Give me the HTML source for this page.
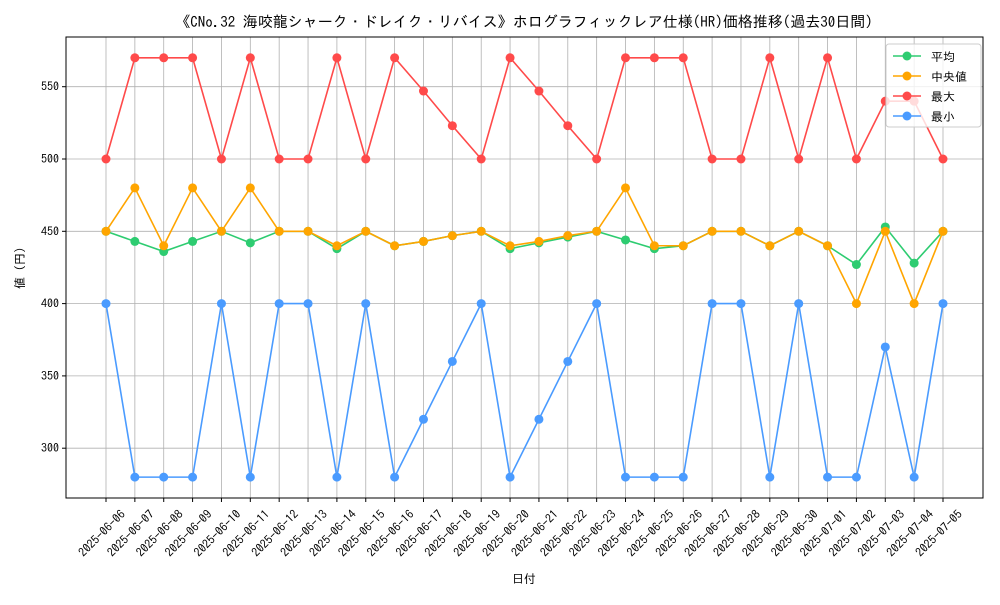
<!DOCTYPE html>
<html><head><meta charset="utf-8"><style>
body{margin:0;background:#fff;font-family:"Liberation Sans","IPAGothic","Noto Sans CJK JP",sans-serif}
svg text{font-family:"IPAGothic","Noto Sans CJK JP",sans-serif}
</style></head><body>
<svg id="c" width="1000" height="600" xmlns="http://www.w3.org/2000/svg"></svg>
<script>
const categories=["2025-06-06","2025-06-07","2025-06-08","2025-06-09","2025-06-10","2025-06-11","2025-06-12","2025-06-13","2025-06-14","2025-06-15","2025-06-16","2025-06-17","2025-06-18","2025-06-19","2025-06-20","2025-06-21","2025-06-22","2025-06-23","2025-06-24","2025-06-25","2025-06-26","2025-06-27","2025-06-28","2025-06-29","2025-06-30","2025-07-01","2025-07-02","2025-07-03","2025-07-04","2025-07-05"];
const avgValues=[450,443,436,443,450,442,450,450,438,450,440,443,447,450,438,442,446,450,444,438,440,450,450,440,450,440,427,453,428,450];
const medianValues=[450,480,440,480,450,480,450,450,440,450,440,443,447,450,440,443,447,450,480,440,440,450,450,440,450,440,400,450,400,450];
const maxValues=[500,570,570,570,500,570,500,500,570,500,570,547,523,500,570,547,523,500,570,570,570,500,500,570,500,570,500,540,540,500];
const minValues=[400,280,280,280,400,280,400,400,280,400,280,320,360,400,280,320,360,400,280,280,280,400,400,280,400,280,280,370,280,400];
const yTicks=[300,350,400,450,500,550];
const seriesNames=["平均","中央値","最大","最小"];
const NS="http://www.w3.org/2000/svg",svg=document.getElementById("c");
const L=66,R=983,T=37,B=498;
const xs=i=>106+i*(943-106)/(categories.length-1);
const ys=v=>159+(500-v)*(72.3/50);
function el(t,a,p){const e=document.createElementNS(NS,t);for(const k in a)e.setAttribute(k,a[k]);(p||svg).appendChild(e);return e;}
const title=el("text",{x:524,y:27,"text-anchor":"middle","font-size":15});title.textContent="《CNo.32 海咬龍シャーク・ドレイク・リバイス》ホログラフィックレア仕様(HR)価格推移(過去30日間)";

categories.forEach((c,i)=>{const x=xs(i);
const g=el("line",{x1:x,x2:x,y1:T,y2:B,stroke:"#b0b0b0","stroke-width":0.8});

el("line",{x1:x,x2:x,y1:B,y2:B+4,stroke:"#000"});
const ax=x+20,ay=B+17;
const t=el("text",{x:ax,y:ay,"text-anchor":"end","font-size":12,transform:`rotate(-45 ${ax} ${ay})`});t.textContent=c;
});
yTicks.forEach(v=>{const y=ys(v);
const g=el("line",{x1:L,x2:R,y1:y,y2:y,stroke:"#b0b0b0","stroke-width":0.8});

el("line",{x1:L-4,x2:L,y1:y,y2:y,stroke:"#000"});
const t=el("text",{x:L-7,y:y+4,"text-anchor":"end","font-size":12});t.textContent=v;
});
const fr=el("rect",{x:L,y:T,width:R-L,height:B-T,fill:"none",stroke:"#000"});

const xl=el("text",{x:524,y:583,"text-anchor":"middle","font-size":12});xl.textContent="日付";

const yl=el("text",{x:24,y:268,"text-anchor":"middle","font-size":12,transform:"rotate(-90 24 268)"});yl.textContent="値 (円)";

const series=[[avgValues,"#2ecc71","avg"],[medianValues,"#ffa500","median"],[maxValues,"#ff4a4a","max"],[minValues,"#4a9bff","min"]];
series.forEach(([vals,col,n])=>{
const p=el("polyline",{points:vals.map((v,i)=>xs(i)+","+ys(v)).join(" "),fill:"none",stroke:col,"stroke-width":1.6});

vals.forEach((v,i)=>{const c=el("circle",{cx:xs(i),cy:ys(v),r:4.5,fill:col});
});});
const lg=el("rect",{x:886,y:44,width:95,height:83,fill:"#fff","fill-opacity":0.8,stroke:"#ccc",rx:3});

series.forEach(([v,col,n],i)=>{const y=56+i*20;
el("line",{x1:893,x2:921,y1:y,y2:y,stroke:col,"stroke-width":1.6});
el("circle",{cx:907,cy:y,r:4.5,fill:col});
const t=el("text",{x:931,y:y+5,"font-size":12});t.textContent=seriesNames[i];
});
</script>
</body></html>
